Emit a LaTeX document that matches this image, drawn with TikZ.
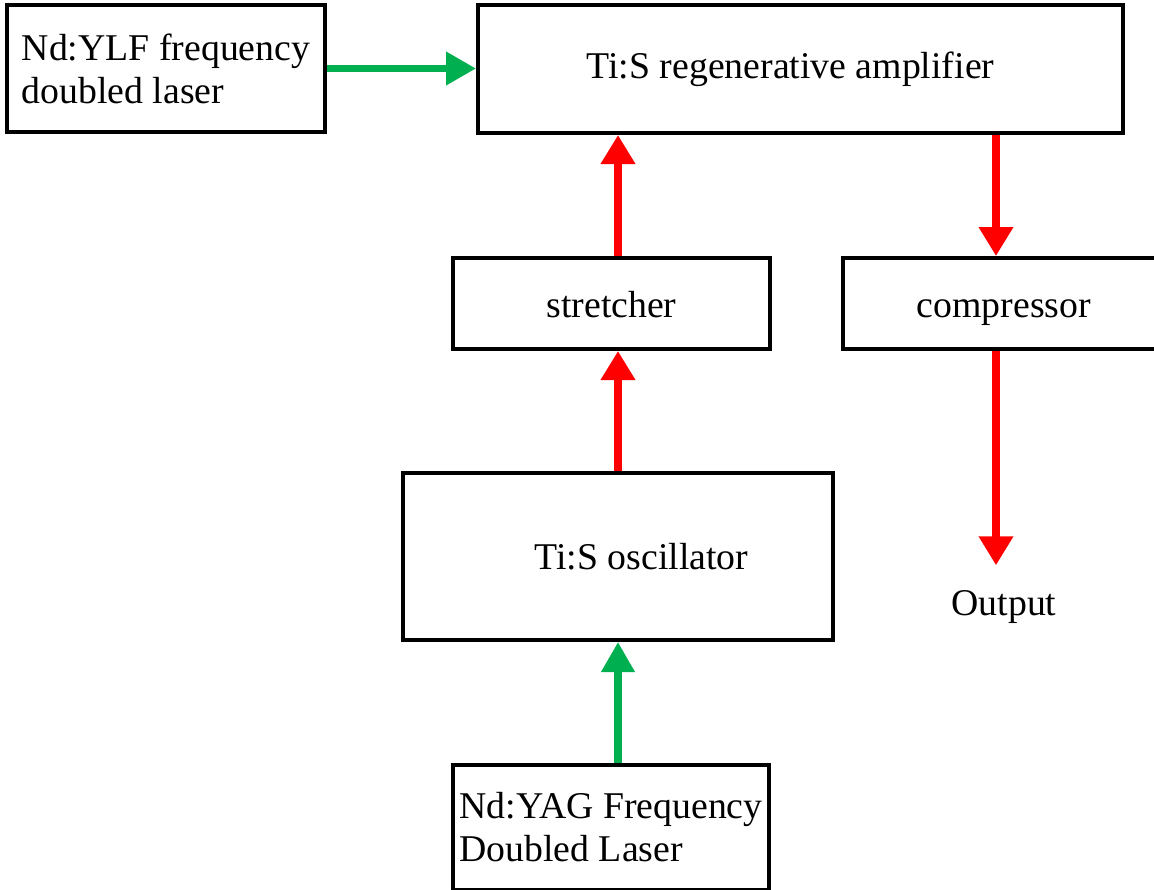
\documentclass[tikz,border=0pt]{standalone}
\usepackage{fontspec}
\setmainfont{Liberation Serif}
\usetikzlibrary{arrows.meta}
\definecolor{pumpgreen}{RGB}{0,176,80}
\definecolor{beamred}{RGB}{255,0,0}

\begin{document}
\begin{tikzpicture}[x=0.02cm,y=-0.02cm,font=\fontsize{21.5}{24.5}\selectfont,
  unit/.style={draw=black,line width=2.3pt,inner sep=3pt,align=center},
  oneline/.style={text height=19.4pt,text depth=3.4pt},
  pump/.style={-{Triangle[length=0.6cm,width=0.64cm]},line width=4pt,draw=pumpgreen},
  beam/.style={-{Triangle[length=0.58cm,width=0.66cm]},line width=4pt,draw=beamred}]
\clip (0,0) rectangle (1154,890);
\node[unit,minimum width=6.36cm,minimum height=2.54cm,align=left] (ylf) at (166,68.5) {Nd:YLF frequency\\doubled laser};
\node[unit,minimum width=12.9cm,minimum height=2.56cm] (amp) at (800.5,69) {\hspace*{-0.4cm}Ti:S regenerative amplifier};
\node[unit,oneline,minimum width=6.34cm,minimum height=1.82cm] (str) at (611.5,303.5) {stretcher};
\node[unit,oneline,minimum width=6.44cm,minimum height=1.82cm] (comp) at (1004,303.5) {compressor};
\node[unit,minimum width=8.6cm,minimum height=3.34cm] (osc) at (618,556.5) {\hspace*{0.94cm}Ti:S oscillator};
\node[unit,minimum width=6.32cm,minimum height=2.5cm,align=left] (yag) at (611,827.5) {Nd:YAG Frequency\\Doubled Laser};
\node (out) at (1004,607) {Output};
\coordinate (tap) at (996,0);
% pump lasers
\draw[pump] (ylf.east) -- (ylf.east -| amp.west);
\draw[pump] (yag.north -| osc.north) -- (osc.south);
% seed and amplified beam
\draw[beam] (osc.north) -- (osc.north |- str.south);
\draw[beam] (str.north -| osc.north) -- (osc.north |- amp.south);
\draw[beam] (amp.south -| tap) -- (comp.north -| tap);
\draw[beam] (comp.south -| tap) -- ([yshift=0.38cm]out.north -| tap);
\end{tikzpicture}
\end{document}
